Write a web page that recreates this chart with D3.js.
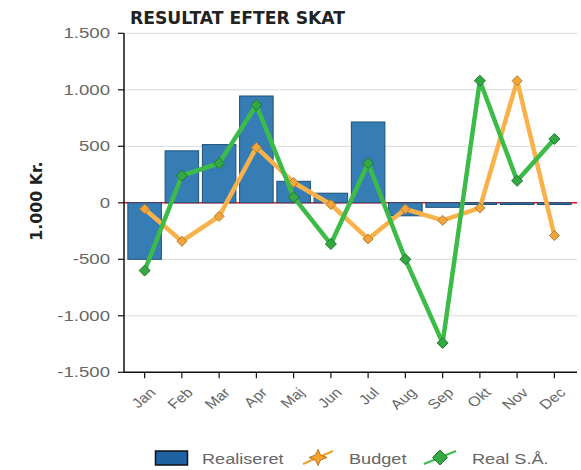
<!DOCTYPE html>
<html><head><meta charset="utf-8">
<script src="https://cdn.jsdelivr.net/npm/d3@7"></script>
<style>body{margin:0;background:#fff}svg{display:block}text{font-family:"Liberation Sans",Arial,sans-serif}</style>
</head><body>
<svg id="c" width="581" height="470"></svg>
<script>
const months = ["Jan","Feb","Mar","Apr","Maj","Jun","Jul","Aug","Sep","Okt","Nov","Dec"];
const realiseret = [-500, 460, 515, 945, 190, 85, 715, -115, -40, -15, -15, -15];
const budget = [-55, -340, -120, 490, 180, -15, -320, -55, -155, -45, 1080, -290];
const realSA = [-600, 240, 350, 865, 50, -365, 350, -500, -1240, 1080, 195, 565];
const yTicks = [-1500, -1000, -500, 0, 500, 1000, 1500];
const yTickLabels = ["-1.500", "-1.000", "-500", "0", "500", "1.000", "1.500"];
const seriesNames = ["Realiseret", "Budget", "Real S.Å."];

(function () {
const svg = d3.select("#c");
const pL = 124, pR = 577, pT = 33.3, pB = 372.3;
const x = d3.scaleBand().domain(months).range([126, 573]).paddingInner(0.1).paddingOuter(0.05);
const y = d3.scaleLinear().domain([-1500, 1500]).range([pB, pT]);

function stext(g, px, py, str, opts) {
  const t = g.append("text")
    .attr("transform", `translate(${px},${py}) scale(${opts.sx||1},1)` + (opts.rot ? ` rotate(${opts.rot})` : ""))
    .attr("text-anchor", opts.anchor || "start")
    .attr("font-size", opts.size)
    .attr("font-weight", opts.weight || "normal")
    .attr("fill", opts.fill || "#666")
    .text(str);
  if (opts.family) t.style("font-family", opts.family);
  if (opts.dy) t.attr("dy", opts.dy);
  return t;
}

// gridlines
svg.append("g").selectAll("line").data(yTicks.filter(d => d !== 0)).join("line")
  .attr("x1", pL).attr("x2", pR)
  .attr("y1", d => y(d)).attr("y2", d => y(d))
  .attr("stroke", "#d9d9d9").attr("stroke-width", 1);

// zero line red
svg.append("line").attr("x1", pL).attr("x2", pR)
  .attr("y1", y(0)).attr("y2", y(0)).attr("stroke", "#e8141c").attr("stroke-width", 1.5);

// bars
svg.append("g").selectAll("rect").data(realiseret).join("rect")
  .attr("x", (d, i) => x(months[i]))
  .attr("width", x.bandwidth())
  .attr("y", d => y(Math.max(0, d)))
  .attr("height", d => Math.abs(y(d) - y(0)))
  .attr("fill", "#367db5").attr("stroke", "#1e4f76").attr("stroke-width", 1);

// axes
const ga = svg.append("g");
ga.append("line").attr("x1", pL).attr("x2", pL).attr("y1", pT).attr("y2", pB).attr("stroke", "#111").attr("stroke-width", 1.5);
ga.append("line").attr("x1", pL).attr("x2", pR).attr("y1", pB).attr("y2", pB).attr("stroke", "#111").attr("stroke-width", 1.5);
ga.selectAll(".yt").data(yTicks).join("line").attr("class", "yt")
  .attr("x1", pL - 6).attr("x2", pL).attr("y1", d => y(d)).attr("y2", d => y(d))
  .attr("stroke", "#111").attr("stroke-width", 1.2);
yTicks.forEach((d, i) => stext(ga, 110, y(d), yTickLabels[i], {size: 14, sx: 1.33, anchor: "end", dy: "0.36em"}));
ga.selectAll(".xt").data(months).join("line").attr("class", "xt")
  .attr("x1", d => x(d) + x.bandwidth() / 2).attr("x2", d => x(d) + x.bandwidth() / 2)
  .attr("y1", pB).attr("y2", pB + 6)
  .attr("stroke", "#111").attr("stroke-width", 1.2);
months.forEach(m => stext(ga, x(m) + x.bandwidth() / 2 + 8, 390, m, {size: 13.5, sx: 1.2, anchor: "end", rot: -45, dy: "0.35em"}));

// title and y label
stext(svg, 130, 24, "RESULTAT EFTER SKAT", {size: 17.2, weight: "bold", fill: "#222", family: "'DejaVu Sans', sans-serif"});
stext(svg, 42, 201, "1.000 Kr.", {size: 15.8, weight: "bold", fill: "#222", anchor: "middle", rot: -90, family: "'DejaVu Sans', sans-serif"});

// lines
const cx = i => x(months[i]) + x.bandwidth() / 2;
const line = d3.line().x((d, i) => cx(i)).y(d => y(d));
function diamond(g, px, py, r, fill, stroke) {
  g.append("path").attr("d", `M${px},${py - r}L${px + r},${py}L${px},${py + r}L${px - r},${py}Z`)
    .attr("fill", fill).attr("stroke", stroke).attr("stroke-width", 1);
}
const gb = svg.append("g");
gb.append("path").datum(budget).attr("d", line).attr("fill", "none")
  .attr("stroke", "#f9b24a").attr("stroke-width", 4.5).attr("stroke-linejoin", "round");
budget.forEach((d, i) => diamond(gb, cx(i), y(d), 5, "#f2a53a", "#b77a2a"));
const gs = svg.append("g");
gs.append("path").datum(realSA).attr("d", line).attr("fill", "none")
  .attr("stroke", "#3dbb48").attr("stroke-width", 4.5).attr("stroke-linejoin", "round");
realSA.forEach((d, i) => diamond(gs, cx(i), y(d), 5.5, "#34a844", "#1f7a2a"));

// legend
const lg = svg.append("g");
lg.append("rect").attr("x", 155.5).attr("y", 451).attr("width", 32).attr("height", 14)
  .attr("fill", "#1d63a3").attr("stroke", "#111").attr("stroke-width", 1.5);
stext(lg, 202, 464, seriesNames[0], {size: 14.5, sx: 1.25});
lg.append("line").attr("x1", 303).attr("y1", 464).attr("x2", 333).attr("y2", 451)
  .attr("stroke", "#f0a030").attr("stroke-width", 2);
const sxc = 318, syc = 457.5;
lg.append("path").attr("d", `M${sxc},${syc - 8}L${sxc + 2.5},${syc - 2.5}L${sxc + 9},${syc}L${sxc + 2.5},${syc + 2.5}L${sxc},${syc + 8}L${sxc - 2.5},${syc + 2.5}L${sxc - 9},${syc}L${sxc - 2.5},${syc - 2.5}Z`)
  .attr("fill", "#f5a42c").attr("stroke", "#b7701c").attr("stroke-width", 1);
stext(lg, 349, 464, seriesNames[1], {size: 14.5, sx: 1.25});
lg.append("line").attr("x1", 424).attr("y1", 464).attr("x2", 456).attr("y2", 451)
  .attr("stroke", "#3dbb48").attr("stroke-width", 2);
diamond(lg, 440, 457.5, 7.5, "#34a844", "#1f7a2a");
stext(lg, 472, 464, seriesNames[2], {size: 14.5, sx: 1.25});
})();
</script>
</body></html>
